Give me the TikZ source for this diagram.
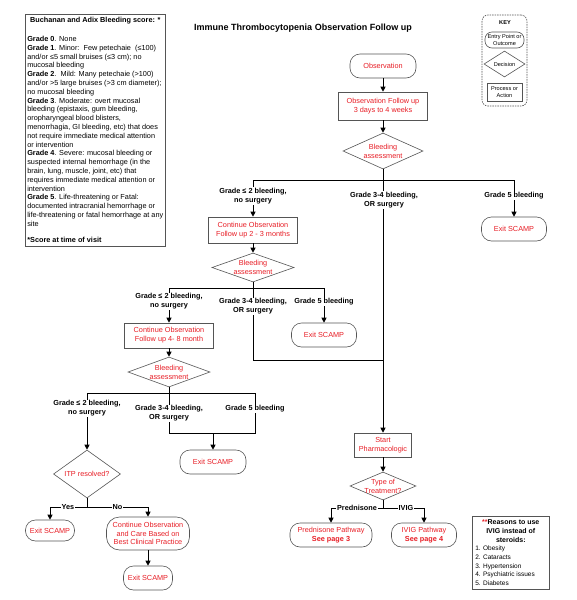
\documentclass[tikz,border=0pt]{standalone}
\usepackage{fontspec}
\setmainfont{Liberation Sans}
\usetikzlibrary{shapes.geometric,arrows.meta}
\definecolor{tred}{RGB}{232,30,38}
\definecolor{bord}{RGB}{85,85,85}
\newcommand\fsN{\fontsize{7.3}{8.8}\selectfont}
\newcommand\fsK{\fontsize{5.6}{6.6}\selectfont}
\newcommand\fsL{\fontsize{6.5}{8.7}\selectfont}
\begin{document}
\begin{tikzpicture}[x=1pt,y=-1pt,
  proc/.style={draw=bord, line width=.6pt, rectangle, align=center, text=tred, font=\fsN, inner sep=1pt},
  term/.style={draw=bord, line width=.6pt, rectangle, rounded corners=10pt, align=center, text=tred, font=\fsN, inner sep=1pt},
  dec/.style={draw=bord, line width=.6pt, diamond, inner sep=0pt},
  dlab/.style={align=center, text=tred, font=\fsN, inner sep=0pt},
  lab/.style={fill=white, align=center, font=\fsN\bfseries, inner sep=0.8pt},
  con/.style={line width=.8pt},
  arr/.style={con, -{Triangle[length=5pt,width=5pt]}},
]
\fill[white] (0,0) rectangle (576,600);
\useasboundingbox (0,0) rectangle (576,600);

% title
\node[font=\fontsize{9}{11}\selectfont\bfseries] (title) at (303,28) {Immune Thrombocytopenia Observation Follow up};

% score box
\node[draw=bord, line width=.6pt, anchor=north west, minimum width=140pt, align=left, font=\fsN, inner xsep=1.5pt, inner ysep=3.2pt] (score) at (25,14)
{\makebox[136pt][c]{\bfseries Buchanan and Adix Bleeding score: *}\\[10pt]
\textbf{Grade 0}. None\\
\textbf{Grade 1}. Minor:\ \ Few petechaie\ \ (≤100)\\
and/or ≤5 small bruises (≤3 cm); no\\
mucosal bleeding\\
\textbf{Grade 2}.\ \ Mild: Many petechaie (>100)\\
and/or >5 large bruises (>3 cm diameter);\\
no mucosal bleeding\\
\textbf{Grade 3}. Moderate: overt mucosal\\
bleeding (epistaxis, gum bleeding,\\
oropharyngeal blood blisters,\\
menorrhagia, GI bleeding, etc) that does\\
not require immediate medical attention\\
or intervention\\
\textbf{Grade 4}. Severe: mucosal bleeding or\\
suspected internal hemorrhage (in the\\
brain, lung, muscle, joint, etc) that\\
requires immediate medical attention or\\
intervention\\
\textbf{Grade 5}. Life-threatening or Fatal:\\
documented intracranial hemorrhage or\\
life-threatening or fatal hemorrhage at any\\
site\\[7.4pt]
\textbf{*Score at time of visit}};

% key
\node[draw=bord, line width=.6pt, dash pattern=on 1.5pt off 1pt, rounded corners=6pt, minimum width=45pt, minimum height=91pt] (keybox) at (504.5,60.5) {};
\node[font=\fsK\bfseries] (keyt) at (505,23) {KEY};
\node[draw=bord, line width=.6pt, rounded corners=7pt, minimum width=39pt, minimum height=16pt, align=center, font=\fsK, inner sep=0pt] (kent) at (504.5,40) {Entry Point or\\Outcome};
\node[dec, minimum width=41pt, minimum height=26pt, label={[font=\fsK, inner sep=0pt]center:Decision}] (kdec) at (504.5,64) {};
\node[draw=bord, line width=.6pt, minimum width=35pt, minimum height=18pt, align=center, font=\fsK, inner sep=0pt] (kproc) at (504.5,92) {Process or\\Action};

% main flow
\node[term, minimum width=66pt, minimum height=24pt] (obs) at (383,66) {Observation};
\node[proc, minimum width=89pt, minimum height=28pt] (fu) at (383,106) {Observation Follow up\\3 days to 4 weeks};
\node[dec, minimum width=80pt, minimum height=36pt, label={[dlab]center:Bleeding\\assessment}] (d1) at (383,151) {};
\node[proc, minimum width=89pt, minimum height=26pt] (c1) at (253,230) {Continue Observation\\Follow up 2 - 3 months};
\node[term, minimum width=65pt, minimum height=24pt] (x1) at (514,229) {Exit SCAMP};
\node[dec, minimum width=82pt, minimum height=29pt, label={[dlab]center:Bleeding\\assessment}] (d2) at (253,267.5) {};
\node[proc, minimum width=89pt, minimum height=25pt] (c2) at (169,335.5) {Continue Observation\\Follow up 4- 8 month};
\node[term, minimum width=65pt, minimum height=24pt] (x2) at (324,335) {Exit SCAMP};
\node[dec, minimum width=82pt, minimum height=30pt, label={[dlab]center:Bleeding\\assessment}] (d3) at (169,372) {};
\node[term, minimum width=66pt, minimum height=24pt] (x3) at (213,462) {Exit SCAMP};
\node[dec, minimum width=67pt, minimum height=48pt, label={[dlab]center:ITP resolved?}] (itp) at (87,474) {};
\node[term, minimum width=49pt, minimum height=21pt] (xl) at (50,530.5) {Exit SCAMP};
\node[term, rounded corners=13pt, minimum width=83pt, minimum height=33pt] (care) at (148,533.5) {Continue Observation\\and Care Based on\\Best Clinical Practice};
\node[term, minimum width=49pt, minimum height=24pt] (xb) at (148,578) {Exit SCAMP};
\node[proc, minimum width=57pt, minimum height=24pt] (sp) at (383,445) {Start\\Pharmacologic};
\node[dec, minimum width=66pt, minimum height=28pt, label={[dlab]center:Type of\\Treatment?}] (tt) at (383,486) {};
\node[term, minimum width=82pt, minimum height=24pt] (pred) at (331,535) {Prednisone Pathway\\\textbf{See page 3}};
\node[term, minimum width=65pt, minimum height=24pt] (ivig) at (424,535) {IVIG Pathway\\\textbf{See page 4}};

% reasons box
\node[draw=bord, line width=.6pt, anchor=north west, minimum width=77pt, minimum height=73pt, align=left, font=\fsL, inner xsep=3pt, inner ysep=2.4pt] (why) at (472,516)
{\makebox[71pt][c]{\fontsize{7}{8.7}\selectfont\bfseries\textcolor{tred}{**}Reasons to use}\\
\makebox[71pt][c]{\fontsize{7}{8.7}\selectfont\bfseries IVIG instead of}\\
\makebox[71pt][c]{\fontsize{7}{8.7}\selectfont\bfseries steroids:}\\
1. Obesity\\
2. Cataracts\\
3. Hypertension\\
4. Psychiatric issues\\
5. Diabetes};

% junction coordinates
\coordinate (b1) at (383,180);
\coordinate (b1l) at (253,180);
\coordinate (b1r) at (514,180);
\coordinate (b2) at (253,288);
\coordinate (b2l) at (169,288);
\coordinate (b2r) at (324,288);
\coordinate (j2a) at (253,360);
\coordinate (j2b) at (383,360);
\coordinate (b3) at (169,393);
\coordinate (b3l) at (87,393);
\coordinate (b3r) at (255,393);
\coordinate (j3a) at (169,433);
\coordinate (j3b) at (255,433);
\coordinate (j3) at (213,433);
\coordinate (b4) at (87,507);
\coordinate (b4l) at (50,507);
\coordinate (b4r) at (148,507);
\coordinate (b5) at (383,508);
\coordinate (b5l) at (331,508);
\coordinate (b5r) at (424,508);

% connectors
\draw[arr] (obs) -- (fu);
\draw[arr] (fu) -- (d1.north);
\draw[con] (d1.south) -- (b1);
\draw[con] (b1l) -- (b1r);
\draw[arr] (b1l) -- (c1.north);
\draw[arr] (b1r) -- (x1.north);
\draw[arr] (b1) -- (sp.north);
\draw[arr] (c1) -- (d2.north);
\draw[con] (d2.south) -- (b2);
\draw[con] (b2l) -- (b2r);
\draw[arr] (b2l) -- (c2.north);
\draw[arr] (b2r) -- (x2.north);
\draw[con] (b2) -- (j2a) -- (j2b);
\draw[arr] (c2) -- (d3.north);
\draw[con] (d3.south) -- (b3);
\draw[con] (b3l) -- (b3r);
\draw[con] (b3) -- (j3a) -- (j3b) -- (b3r);
\draw[arr] (j3) -- (x3.north);
\draw[arr] (b3l) -- (itp.north);
\draw[con] (itp.south) -- (b4);
\draw[con] (b4l) -- (b4r);
\draw[arr] (b4l) -- (xl.north);
\draw[arr] (b4r) -- (care.north);
\draw[arr] (care) -- (xb);
\draw[arr] (sp) -- (tt.north);
\draw[con] (tt.south) -- (b5);
\draw[con] (b5l) -- (b5r);
\draw[arr] (b5l) -- (pred.north);
\draw[arr] (b5r) -- (ivig.north);

% branch labels
\node[lab] (l1a) at (253,196) {Grade ≤ 2 bleeding,\\no surgery};
\node[lab] (l1b) at (384,200) {Grade 3-4 bleeding,\\OR surgery};
\node[lab] (l1c) at (514,196) {Grade 5 bleeding};
\node[lab] (l2a) at (169,301.5) {Grade ≤ 2 bleeding,\\no surgery};
\node[lab] (l2b) at (253,306.5) {Grade 3-4 bleeding,\\OR surgery};
\node[lab] (l2c) at (324,302) {Grade 5 bleeding};
\node[lab] (l3a) at (87,408.5) {Grade ≤ 2 bleeding,\\no surgery};
\node[lab] (l3b) at (169,413.5) {Grade 3-4 bleeding,\\OR surgery};
\node[lab] (l3c) at (255,409) {Grade 5 bleeding};
\node[lab] (lyes) at (68,507) {Yes};
\node[lab] (lno) at (117.5,507) {No};
\node[lab] (lpr) at (357,508) {Prednisone};
\node[lab] (liv) at (406,508) {IVIG};
\end{tikzpicture}
\end{document}
